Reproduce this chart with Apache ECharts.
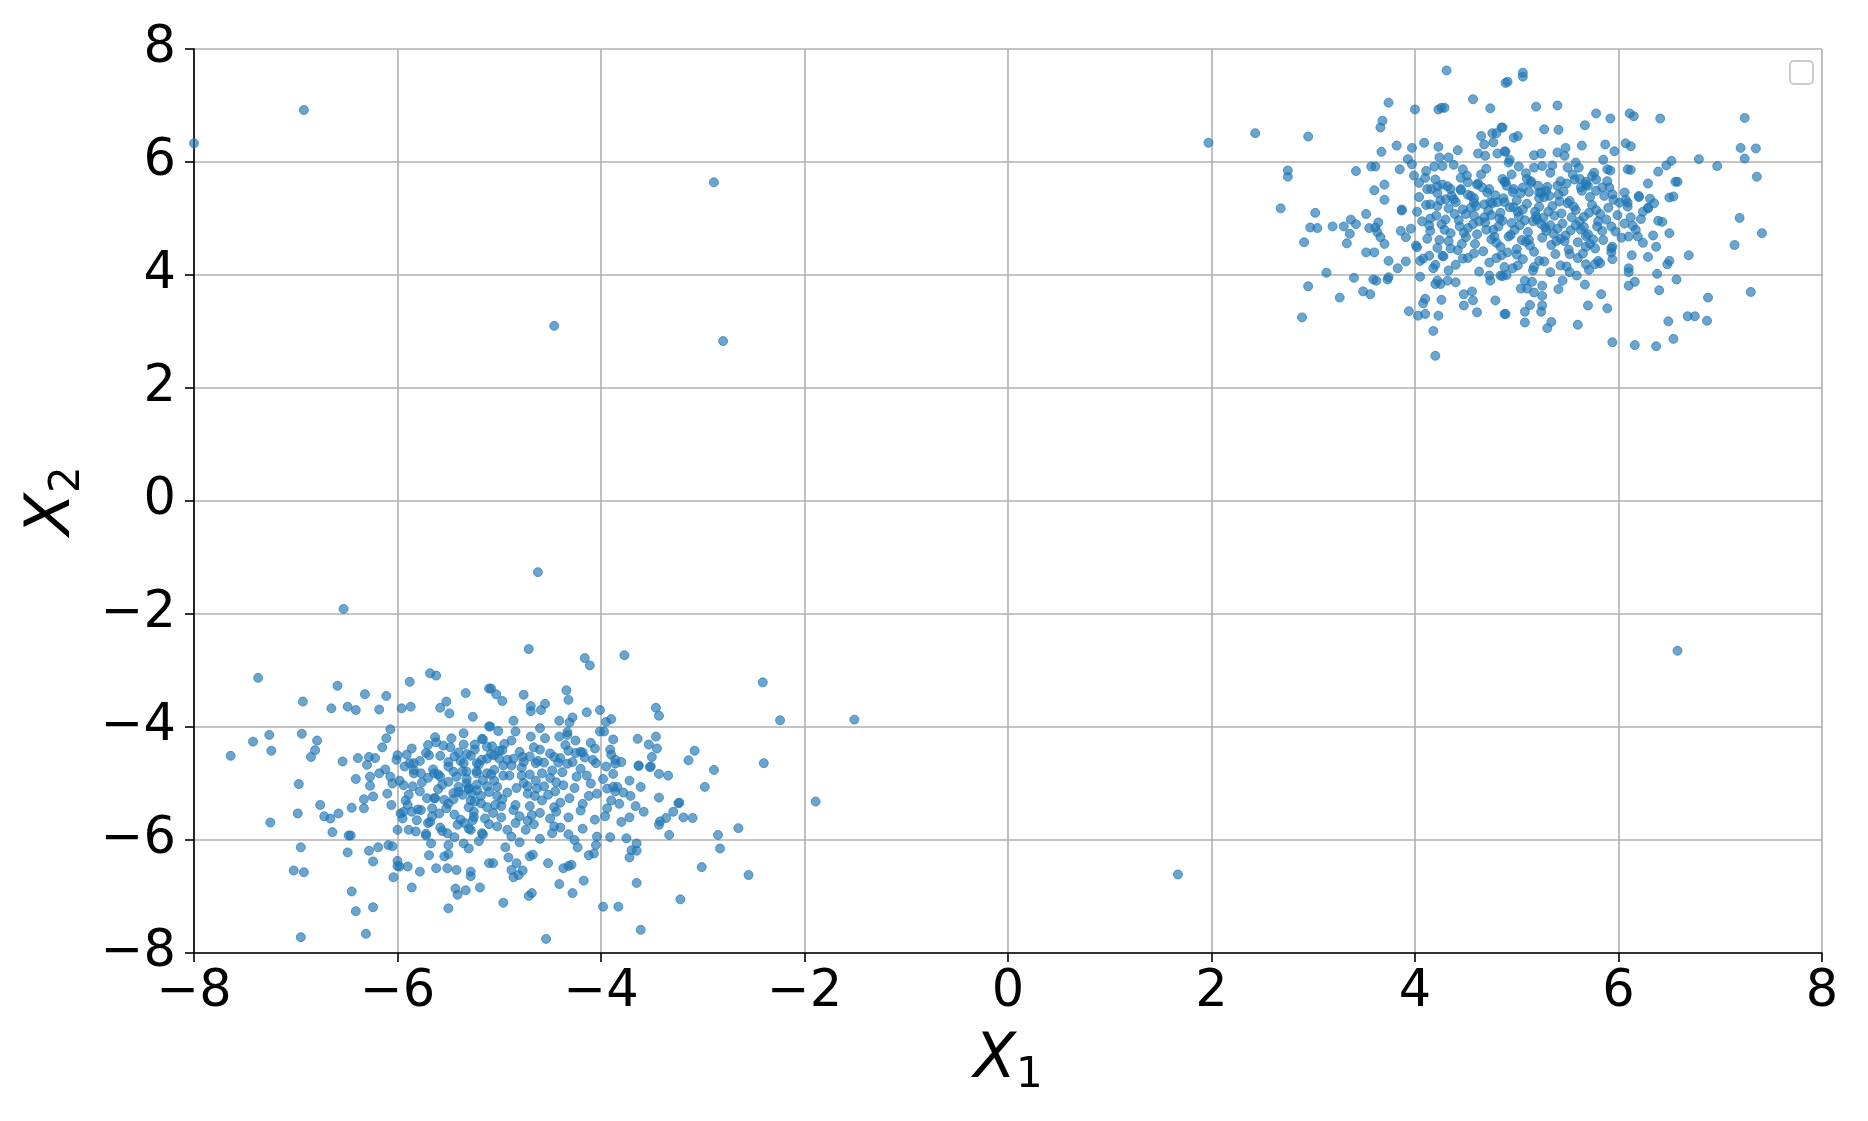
<!DOCTYPE html>
<html><head><meta charset="utf-8">
<script src="https://cdn.jsdelivr.net/npm/echarts@6/dist/echarts.min.js"></script>
<style>html,body{margin:0;padding:0;background:#fff}#c{width:1868px;height:1121px}</style>
</head><body><div id="c"></div>
<script>
const xTicks = [-8, -6, -4, -2, 0, 2, 4, 6, 8];
const yTicks = [-8, -6, -4, -2, 0, 2, 4, 6, 8];

const outliers = [[-8.0,6.33],[-6.92,6.92],[-2.89,5.64],[-4.46,3.10],[-2.80,2.83],[-4.62,-1.26],[-6.53,-1.91],[1.97,6.34],[6.58,-2.65],[1.67,-6.61],[-1.51,-3.87],[-1.89,-5.32]];

const upperEdgeTop = [[4.31,7.62],[4.89,7.40],[3.74,7.05],[4.00,6.93],[4.23,6.93],[4.26,6.96],[4.29,6.96],[4.57,7.11],[4.74,6.95],[2.43,6.51],[2.95,6.45],[3.68,6.73],[3.66,6.61],[4.85,6.61],[4.65,6.46],[4.76,6.51],[4.80,6.51],[4.68,6.31],[4.77,6.35],[3.82,6.29],[3.97,6.25],[4.09,6.34],[4.23,6.27],[4.42,6.21],[3.67,6.18],[4.62,6.15],[4.69,6.11],[4.81,6.15],[4.89,6.18],[2.75,5.85],[2.75,5.74],[3.42,5.84],[3.57,5.92],[3.61,5.92],[3.93,6.05],[3.97,5.96],[3.85,5.87],[4.24,6.08],[4.33,6.08],[4.27,5.93],[4.11,5.84],[4.19,5.92],[4.47,5.87],[4.51,5.76],[4.65,5.78],[3.99,5.76],[3.70,5.60],[3.60,5.50],[3.70,5.33],
[4.04,5.63],[4.12,5.52],[4.20,5.69],[4.22,5.57],[4.32,5.57],[4.35,5.52],[4.45,5.52],[4.55,5.40],[4.61,5.60],[4.73,5.52],[4.88,5.65],[4.81,5.29],[4.74,5.29],[4.68,5.25],[3.87,5.16],[4.15,5.25],[4.22,5.22],[4.38,5.34],[4.58,5.28],
[4.91,7.42],[5.06,7.58],[5.06,7.51],[5.19,6.98],[5.40,7.00],[4.86,6.61],[4.97,6.43],[5.01,6.46],[5.27,6.58],[5.41,6.57],[5.67,6.65],[5.78,6.86],[5.92,6.77],[6.11,6.86],[6.15,6.81],[6.41,6.77],[7.24,6.78],[4.88,6.19],[4.93,6.04],[4.92,5.99],[5.17,6.12],[5.24,6.15],[5.40,6.17],[5.48,6.25],[5.47,6.11],[5.64,6.29],[5.87,6.31],[5.96,6.19],[6.07,6.33],[6.12,6.28],[7.20,6.25],[7.35,6.24],[7.24,6.06],[7.36,5.74],[6.52,6.02],[6.79,6.05],[6.97,5.93],[6.47,5.94],[6.39,5.83],[6.09,5.87],[6.12,5.86],[5.85,6.04],[5.89,5.87],[5.58,5.99],[5.50,5.90],[5.35,5.94],[5.25,5.93],[5.17,5.90],[5.09,5.80],[5.76,5.81],[5.74,5.75],[4.89,5.65],[4.97,5.52],[4.96,5.47],[5.14,5.63],[6.29,5.62],[6.56,5.65],[6.58,5.65],[6.20,5.40],[6.31,5.35],[6.50,5.37],[6.54,5.39],[6.07,5.33],[6.09,5.28],[6.29,5.19],
[5.22,5.46],[5.29,5.49],[5.32,5.40],[5.43,5.66],[5.40,5.58],[5.57,5.69],[5.68,5.65],[5.70,5.58],[5.63,5.55],[5.78,5.49],[5.89,5.66],[5.91,5.55],[5.94,5.43]];

const upperEdgeBottom = [[2.68,5.18],[3.02,5.10],[2.97,4.84],[3.04,4.83],[3.19,4.86],[3.30,4.86],[3.37,4.98],[3.42,4.90],[3.36,4.73],[3.52,5.08],[3.55,4.83],[3.61,4.84],[3.64,4.93],[3.63,4.76],[3.66,4.67],[3.70,4.55],[3.87,5.14],[3.86,4.78],[3.91,4.67],[2.91,4.58],[3.33,4.56],[3.52,4.40],[3.60,4.40],[3.74,4.25],[3.83,4.12],[3.91,4.24],[3.13,4.04],[3.40,3.95],[3.59,3.92],[3.62,3.90],[3.73,3.92],[3.74,3.96],[2.95,3.80],[3.26,3.60],[3.49,3.71],[3.56,3.66],[2.89,3.25],[4.02,4.49],[4.05,3.97],[4.08,4.29],[4.14,4.34],[4.20,4.18],[4.27,4.34],[4.35,4.47],[4.33,4.08],[4.47,4.29],[4.20,3.84],[4.22,3.90],[4.25,3.84],[4.32,3.90],[4.40,3.87],[4.10,3.58],[4.08,3.50],[3.94,3.36],[4.03,3.28],[4.10,3.31],[4.26,3.56],[4.23,3.28],[4.18,3.01],[4.20,2.57],[4.48,3.66],[4.56,3.71],[4.57,3.55],[4.48,3.46],[4.61,3.34],[4.79,3.55],[4.88,3.31],[4.73,3.99],[4.74,3.90],[4.86,3.98],
[7.19,5.01],[7.41,4.74],[7.14,4.53],[6.69,4.35],[6.29,5.18],[6.22,4.99],[6.14,4.87],[6.10,4.68],[6.19,4.68],[6.24,4.57],[6.34,4.70],[6.39,4.96],[6.43,4.94],[6.50,4.74],[6.37,4.50],[6.29,4.32],[6.13,4.35],[6.48,4.19],[6.50,4.25],[6.10,4.12],[6.10,4.05],[6.38,4.02],[6.57,3.92],[6.16,3.88],[6.10,3.81],[6.40,3.73],[6.88,3.60],[7.30,3.70],[6.68,3.27],[6.75,3.27],[6.87,3.19],[6.49,3.18],[6.54,2.87],[6.16,2.76],[6.37,2.74],[5.94,2.81],[5.60,3.12],[5.30,3.06],[5.34,3.17],[5.08,3.16],[4.89,3.31],[5.08,3.35],[5.13,3.47],[5.25,3.46],[5.24,3.35],[5.70,3.46],[5.89,3.41],[5.83,3.66],[5.67,3.83],[5.25,3.63],[5.41,3.75],[5.45,3.90],[5.04,3.76],[5.10,3.76],[5.17,3.69],[5.25,3.81],[5.15,3.88],[5.08,3.90],[5.59,3.99],[5.52,4.05],[5.43,4.17],[5.68,4.19],[5.77,4.19],[5.80,4.25],[5.94,4.28],[5.93,4.40],[5.93,4.47],[4.84,3.99],[4.88,4.14],[5.01,4.17],[5.17,4.14],[5.22,4.25]];

const upperCore = [[4.10,5.72],[4.38,5.95],[4.52,5.64],[4.70,5.88],[4.86,5.70],[5.02,5.92],[5.14,5.66],[5.33,5.81],[5.49,5.62],[5.61,5.90],[5.78,5.69],[5.92,5.85],[5.55,5.78],[4.95,5.78],[4.27,5.60],
[4.04,5.38],[4.16,5.52],[4.30,5.34],[4.45,5.50],[4.58,5.36],[4.66,5.55],[4.79,5.41],[4.90,5.58],[5.00,5.32],[5.12,5.47],[5.22,5.36],[5.30,5.56],[5.41,5.42],[5.52,5.31],[5.64,5.49],[5.72,5.38],[5.84,5.55],[5.95,5.33],[6.06,5.46],[6.20,5.38],[4.52,5.42],[5.06,5.55],[5.68,5.60],[4.22,5.45],
[4.02,5.12],[4.11,5.24],[4.21,5.05],[4.33,5.18],[4.40,5.29],[4.50,5.08],[4.60,5.22],[4.68,5.02],[4.76,5.27],[4.84,5.10],[4.93,5.20],[5.02,5.04],[5.10,5.26],[5.18,5.12],[5.26,5.01],[5.35,5.22],[5.44,5.09],[5.50,5.27],[5.58,5.15],[5.66,5.03],[5.74,5.24],[5.82,5.08],[5.90,5.19],[5.99,5.06],[6.09,5.21],[6.24,5.12],[6.35,5.27],[4.47,5.16],[4.72,5.14],[5.06,5.16],[5.31,5.12],[5.54,5.02],[4.88,5.29],[5.22,5.21],[5.78,5.15],
[3.96,4.82],[4.07,4.95],[4.15,4.78],[4.26,4.90],[4.35,4.74],[4.43,4.97],[4.52,4.83],[4.61,4.72],[4.69,4.93],[4.77,4.80],[4.86,4.96],[4.94,4.71],[5.03,4.88],[5.11,4.76],[5.20,4.98],[5.28,4.84],[5.36,4.73],[5.45,4.91],[5.53,4.79],[5.62,4.95],[5.70,4.72],[5.79,4.86],[5.88,4.98],[5.97,4.77],[6.06,4.91],[6.17,4.80],[4.30,4.98],[4.57,4.90],[4.82,4.86],[5.08,4.97],[5.40,4.82],[5.66,4.85],[4.98,4.80],[5.24,4.90],
[4.01,4.52],[4.12,4.64],[4.22,4.48],[4.33,4.60],[4.42,4.44],[4.50,4.67],[4.59,4.55],[4.67,4.42],[4.75,4.63],[4.84,4.50],[4.92,4.68],[5.00,4.46],[5.09,4.59],[5.17,4.41],[5.25,4.66],[5.34,4.53],[5.43,4.64],[5.51,4.45],[5.60,4.58],[5.68,4.69],[5.77,4.47],[5.85,4.62],[5.94,4.50],[6.03,4.66],[4.46,4.55],[4.80,4.57],[5.13,4.52],[5.47,4.60],[5.72,4.55],
[4.05,4.25],[4.18,4.12],[4.28,4.33],[4.40,4.18],[4.52,4.30],[4.63,4.06],[4.73,4.22],[4.85,4.35],[4.96,4.12],[5.06,4.28],[5.16,4.08],[5.27,4.24],[5.38,4.37],[5.49,4.15],[5.60,4.30],[5.71,4.09],[5.82,4.21],[4.58,4.38],[5.00,4.36],[5.33,4.05],[5.65,4.38],[4.90,4.00],
[4.15,5.00],[4.24,4.62],[4.36,5.40],[4.44,4.86],[4.55,5.19],[4.63,4.95],[4.71,5.46],[4.78,4.68],[4.87,5.36],[4.95,4.92],[5.04,5.45],[5.12,4.62],[5.19,5.04],[5.27,5.38],[5.33,4.88],[5.42,5.30],[5.48,4.70],[5.56,5.21],[5.63,4.80],[5.71,5.10],[5.80,4.95],[5.86,5.40],[5.93,4.86],[6.01,5.28],[4.48,4.75],[4.62,5.62],[4.83,5.00],[5.01,5.12],[5.16,4.95],[5.37,5.05],[5.58,4.88],[5.75,4.63],[4.39,5.08],[4.70,4.80],[5.29,4.78],[5.46,5.48],[4.29,4.80],[4.91,4.40],[5.21,5.58],[5.52,4.37],[4.14,4.88],[4.58,5.05],[4.97,5.20],[5.39,4.60],[5.84,4.78],[5.10,5.70],[4.80,4.30],[5.62,5.70],[4.45,5.72],[6.12,5.02],[4.25,5.32],[5.68,4.50],[4.75,5.06],[5.05,4.62],[5.24,5.46]];

const lowerEdgeTop = [[-7.37,-3.13],[-6.93,-3.55],[-6.59,-3.27],[-6.65,-3.67],[-6.49,-3.64],[-6.41,-3.70],[-6.32,-3.42],[-6.11,-3.45],[-6.18,-3.69],[-5.96,-3.67],[-5.87,-3.64],[-5.88,-3.20],[-5.68,-3.05],[-5.62,-3.09],[-5.52,-3.55],[-5.58,-3.66],[-5.49,-3.76],[-5.33,-3.40],[-5.26,-3.82],[-5.10,-3.32],[-5.10,-3.99],[-7.64,-4.51],[-7.42,-4.26],[-7.26,-4.14],[-7.24,-4.42],[-6.94,-4.12],[-6.79,-4.24],[-6.81,-4.41],[-6.85,-4.53],[-6.54,-4.61],[-6.39,-4.55],[-6.28,-4.53],[-6.22,-4.55],[-6.30,-4.67],[-6.07,-4.04],[-6.11,-4.20],[-6.15,-4.36],[-6.00,-4.50],[-6.01,-4.58],[-5.91,-4.49],[-5.88,-4.64],[-5.84,-4.64],[-5.70,-4.32],[-5.63,-4.18],[-5.69,-4.50],[-5.58,-4.51],[-5.47,-4.20],[-5.35,-4.11],[-5.35,-4.31],[-5.24,-4.31],[-5.16,-4.22],[-5.32,-4.48],[-5.28,-4.51],[-5.35,-4.64],[-5.22,-4.64],[-5.17,-4.58],[-5.12,-4.35],
[-4.71,-2.62],[-4.16,-2.78],[-4.11,-2.91],[-3.77,-2.73],[-2.41,-3.21],[-2.24,-3.88],[-5.08,-3.32],[-5.03,-3.42],[-4.97,-3.54],[-4.76,-3.43],[-4.69,-3.63],[-4.69,-3.72],[-4.59,-3.70],[-4.55,-3.59],[-4.34,-3.35],[-4.32,-3.52],[-4.14,-3.74],[-4.01,-3.70],[-3.95,-3.91],[-3.90,-3.86],[-3.46,-3.66],[-3.43,-3.80],[-4.41,-3.89],[-4.31,-3.92],[-4.28,-3.83],[-4.86,-3.89],[-5.09,-3.99],[-5.01,-4.07],[-4.84,-4.08],[-4.60,-4.02],[-4.55,-4.20],[-4.69,-4.17],[-4.41,-4.17],[-4.33,-4.14],[-4.33,-4.09],[-4.01,-4.08],[-3.97,-4.08],[-3.88,-4.22],[-3.64,-4.21],[-3.53,-4.31],[-3.46,-4.17],[-3.45,-4.38],[-3.50,-4.53],[-3.08,-4.42],[-3.14,-4.59],[-2.40,-4.64],[-2.89,-4.76],[-5.17,-4.21],[-5.07,-4.34],[-4.97,-4.41],[-5.05,-4.50],[-5.00,-4.56],[-4.96,-4.68],[-4.86,-4.56],[-4.77,-4.53],[-4.76,-4.62],[-4.64,-4.64],[-4.56,-4.63],[-4.46,-4.53],[-4.42,-4.63],[-4.32,-4.42],[-4.25,-4.46],[-4.20,-4.44],[-4.10,-4.28],[-4.05,-4.64],[-3.91,-4.40],[-3.90,-4.49],[-3.86,-4.58],[-3.86,-4.65],[-3.63,-4.68],[-3.51,-4.70]];

const lowerEdgeBottom = [[-6.97,-5.01],[-7.25,-5.69],[-6.98,-5.53],[-6.76,-5.38],[-6.72,-5.58],[-6.66,-5.62],[-6.58,-5.53],[-6.64,-5.86],[-6.48,-5.92],[-6.46,-5.92],[-6.45,-5.43],[-6.33,-5.44],[-6.33,-5.28],[-6.24,-5.23],[-6.41,-4.92],[-6.27,-5.04],[-6.27,-4.88],[-6.18,-4.82],[-6.12,-4.75],[-6.07,-4.88],[-6.05,-5.00],[-6.06,-5.38],[-6.95,-6.13],[-7.02,-6.54],[-6.92,-6.57],[-6.49,-6.22],[-6.28,-6.19],[-6.19,-6.13],[-6.24,-6.38],[-6.09,-6.09],[-6.05,-6.11],[-6.00,-6.37],[-6.00,-6.46],[-5.98,-6.47],[-5.90,-6.47],[-6.04,-6.66],[-6.45,-6.91],[-6.41,-7.26],[-6.24,-7.19],[-6.95,-7.72],[-6.31,-7.66],[-5.86,-6.84],[-5.78,-6.56],[-5.62,-6.50],[-5.51,-6.50],[-5.42,-6.53],[-5.69,-6.27],[-5.54,-6.29],[-5.50,-6.25],[-5.67,-6.06],[-5.50,-6.09],[-5.35,-6.06],[-5.30,-6.15],[-5.28,-6.56],[-5.28,-6.64],[-5.43,-6.86],[-5.41,-6.97],[-5.33,-6.89],[-5.19,-6.84],[-5.50,-7.21],[-5.10,-6.41],[-5.97,-5.53],[-5.94,-5.50],[-5.89,-5.82],[-5.82,-5.85],[-5.72,-5.89],[-5.81,-5.65],[-5.77,-5.47],[-5.68,-5.68],[-5.59,-5.53],[-5.54,-5.29],[-5.45,-5.17],[-5.40,-5.06],[-5.32,-5.00],[-5.27,-5.17],[-5.22,-5.12],[-5.18,-5.35],[-5.25,-5.59],[-5.28,-5.82],[-5.17,-5.88],[-5.41,-5.73],[-5.51,-5.88],[-5.86,-5.50],[-5.84,-4.82],[-5.77,-4.82],[-5.64,-4.82],[-5.58,-4.88],[-5.50,-4.97],[-5.45,-4.79],[-5.32,-4.79],[-5.22,-4.82],[-5.12,-4.82],[-5.94,-5.03],[-5.89,-5.20],[-5.71,-5.26],[-5.64,-5.26],
[-2.98,-5.06],[-2.65,-5.79],[-2.85,-5.91],[-2.83,-6.15],[-3.01,-6.48],[-2.55,-6.62],[-3.22,-7.05],[-3.65,-6.76],[-3.61,-7.59],[-3.98,-7.18],[-3.83,-7.18],[-4.54,-7.75],[-4.96,-7.11],[-4.71,-6.99],[-4.68,-6.94],[-4.41,-6.78],[-4.28,-6.94],[-4.17,-6.72],[-5.06,-6.41],[-4.94,-6.13],[-4.91,-6.31],[-4.83,-6.41],[-4.88,-6.53],[-4.86,-6.66],[-4.81,-6.62],[-4.77,-6.54],[-4.70,-6.29],[-4.67,-6.26],[-4.52,-6.41],[-4.37,-6.50],[-4.32,-6.46],[-4.29,-6.44],[-4.23,-6.13],[-4.12,-6.27],[-4.07,-6.24],[-4.05,-6.09],[-3.91,-5.95],[-3.75,-5.97],[-3.65,-6.06],[-3.70,-6.18],[-3.72,-6.31],[-3.65,-6.19],[-3.80,-5.68],[-3.72,-5.60],[-3.66,-5.40],[-3.58,-5.50],[-3.71,-5.22],[-3.61,-5.06],[-3.43,-5.25],[-3.43,-5.73],[-3.42,-5.67],[-3.36,-5.61],[-3.29,-5.50],[-3.24,-5.35],[-3.23,-5.34],[-3.19,-5.60],[-3.10,-5.61],[-3.33,-5.91],[-3.94,-5.09],[-3.88,-5.06],[-3.86,-5.14],[-3.88,-4.83],[-3.63,-4.69],[-3.52,-4.71],[-3.43,-4.83],[-3.34,-4.86]];

const lowerCore = [[-5.86,-4.38],[-5.72,-4.46],[-5.55,-4.33],[-5.40,-4.45],[-5.24,-4.40],[-5.08,-4.48],[-4.95,-4.30],[-4.80,-4.44],[-4.66,-4.36],[-4.50,-4.47],[-4.35,-4.32],[-4.18,-4.45],[-4.06,-4.38],[-5.62,-4.27],[-4.88,-4.24],[-4.25,-4.24],
[-5.93,-4.70],[-5.78,-4.60],[-5.65,-4.75],[-5.50,-4.62],[-5.36,-4.78],[-5.20,-4.66],[-5.05,-4.76],[-4.92,-4.58],[-4.78,-4.72],[-4.62,-4.60],[-4.48,-4.77],[-4.33,-4.65],[-4.20,-4.74],[-4.08,-4.58],[-3.95,-4.70],[-3.80,-4.62],[-5.44,-4.52],[-4.70,-4.52],[-5.12,-4.56],[-4.40,-4.55],
[-5.98,-4.95],[-5.85,-5.05],[-5.70,-4.90],[-5.56,-5.02],[-5.42,-4.88],[-5.30,-5.08],[-5.16,-4.94],[-5.02,-5.06],[-4.90,-4.86],[-4.76,-4.99],[-4.63,-5.09],[-4.50,-4.90],[-4.37,-5.03],[-4.24,-4.88],[-4.10,-5.00],[-3.98,-4.92],[-3.84,-5.06],[-3.72,-4.95],[-5.22,-5.02],[-4.83,-5.08],[-4.44,-4.98],[-5.60,-4.84],[-5.08,-4.84],[-4.70,-4.84],
[-6.10,-5.18],[-5.92,-5.30],[-5.78,-5.14],[-5.63,-5.26],[-5.50,-5.36],[-5.36,-5.20],[-5.24,-5.32],[-5.10,-5.15],[-4.97,-5.28],[-4.84,-5.38],[-4.72,-5.18],[-4.58,-5.30],[-4.45,-5.14],[-4.31,-5.26],[-4.18,-5.36],[-4.04,-5.18],[-3.90,-5.30],[-3.78,-5.16],[-5.30,-5.10],[-5.04,-5.38],[-4.65,-5.22],[-5.45,-5.28],
[-5.95,-5.62],[-5.80,-5.46],[-5.66,-5.58],[-5.52,-5.44],[-5.38,-5.64],[-5.25,-5.50],[-5.12,-5.42],[-4.98,-5.60],[-4.86,-5.47],[-4.72,-5.66],[-4.60,-5.52],[-4.46,-5.42],[-4.32,-5.60],[-4.20,-5.48],[-4.06,-5.64],[-3.94,-5.44],[-5.30,-5.42],[-4.80,-5.58],[-4.50,-5.62],
[-5.72,-5.92],[-5.58,-5.78],[-5.44,-5.95],[-5.30,-5.80],[-5.16,-5.90],[-5.02,-5.76],[-4.88,-5.94],[-4.74,-5.82],[-4.60,-5.98],[-4.46,-5.76],[-4.32,-5.90],[-4.18,-5.80],[-4.04,-5.94],[-5.10,-5.72],[-4.66,-5.72],
[-5.50,-4.70],[-5.32,-4.92],[-5.18,-5.22],[-5.05,-4.95],[-4.92,-5.16],[-4.78,-4.86],[-4.64,-4.95],[-4.52,-5.20],[-4.38,-4.80],[-4.26,-5.08],[-5.60,-5.10],[-5.44,-5.55],[-5.28,-5.30],[-5.14,-5.62],[-4.98,-5.40],[-4.84,-5.70],[-4.70,-5.40],[-4.56,-5.05],[-4.40,-5.34],[-4.14,-4.86],[-5.76,-4.98],[-5.66,-5.44],[-5.40,-5.15],[-5.22,-4.78],[-5.02,-5.22],[-4.88,-4.68],[-4.72,-5.05],[-4.58,-4.82],[-4.44,-5.50],[-4.28,-4.62],[-5.56,-5.84],[-5.34,-5.70],[-5.06,-5.52],[-4.92,-5.82],[-4.40,-5.78],[-4.12,-5.22],[-3.96,-5.58],[-3.82,-5.36],[-5.84,-4.76],[-5.48,-4.36],[-5.00,-4.42],[-4.60,-4.40],[-4.16,-4.54],[-5.70,-5.70],[-5.20,-6.02],[-4.80,-6.04],[-4.26,-6.00],[-5.90,-5.38],[-6.00,-5.82],[-5.38,-4.60],[-4.96,-4.86],[-4.48,-5.88],[-5.12,-5.05],[-4.68,-5.56],[-5.26,-5.65]];

const points = [].concat(outliers, upperEdgeTop, upperEdgeBottom, upperCore, lowerEdgeTop, lowerEdgeBottom, lowerCore);

const chart = echarts.init(document.getElementById('c'), null, {renderer: 'canvas'});
const fmt = v => String(v).replace('-', '\u2212');
const FONT = 'DejaVu Sans';
const rich = {
  i: {fontFamily: FONT, fontStyle: 'italic', fontSize: 62, lineHeight: 72, color: '#000'},
  s: {fontFamily: FONT, fontSize: 42, lineHeight: 42, padding: [30, 0, 0, 0], verticalAlign: 'bottom', color: '#000'}
};
function axisCommon(ticks) {
  return {
    type: 'value', min: ticks[0], max: ticks[ticks.length - 1], interval: 2,
    axisLine: {onZero: false, lineStyle: {color: '#000', width: 1.6}},
    axisTick: {show: true, inside: false, length: 9, lineStyle: {color: '#000', width: 1.6}},
    axisLabel: {formatter: fmt, fontSize: 51, color: '#000', fontFamily: FONT},
    splitLine: {show: true, lineStyle: {color: '#b0b0b0', width: 1.6}},
    nameLocation: 'middle',
    nameTextStyle: {rich: rich}
  };
}
const xAxis = axisCommon(xTicks);
xAxis.name = '{i|X}{s|1}';
xAxis.nameGap = 72;
xAxis.axisLabel.margin = 14;
const yAxis = axisCommon(yTicks);
yAxis.name = '{i|X}{s|2}';
yAxis.nameGap = 105;
yAxis.axisLabel.margin = 18;

chart.setOption({
  animation: false,
  backgroundColor: '#fff',
  grid: {left: 194, right: 46, top: 49, bottom: 168, containLabel: false},
  xAxis: xAxis,
  yAxis: yAxis,
  series: [{
    type: 'scatter',
    data: points,
    symbol: 'circle',
    symbolSize: 9,
    itemStyle: {color: '#1f77b4', borderColor: '#1f77b4', borderWidth: 1, opacity: 0.66}
  }],
  graphic: [{
    type: 'rect', left: 1789, top: 60,
    shape: {width: 23, height: 23, r: 4},
    style: {fill: 'rgba(255,255,255,0.8)', stroke: '#cccccc', lineWidth: 2}
  }]
});
</script></body></html>
